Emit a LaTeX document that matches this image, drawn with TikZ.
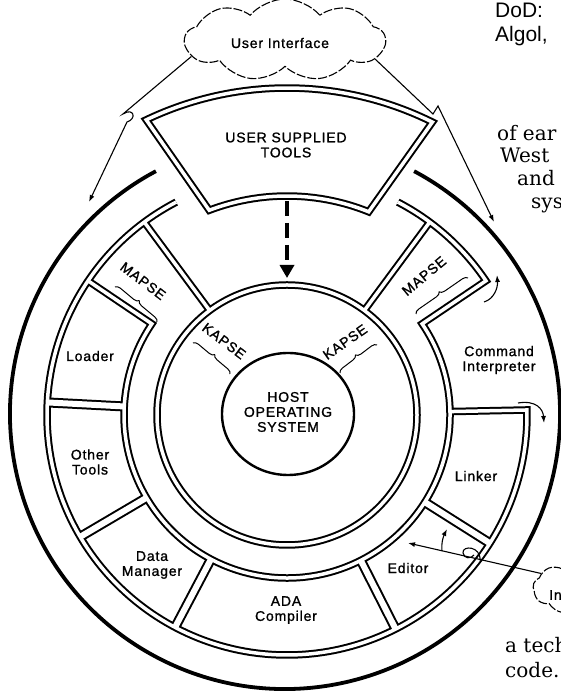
\documentclass[tikz,border=0pt]{standalone}
\usepackage{fontspec}
\usepackage{tikz}
\usetikzlibrary{arrows.meta}
\usetikzlibrary{shapes.symbols,decorations.pathreplacing}

\newfontfamily\labfam[LetterSpace=6,FakeBold=1.2]{Liberation Sans}
\newfontfamily\pagesansfam{Liberation Sans}
\newfontfamily\pageseriffam{DejaVu Serif}
\newcommand{\labfont}{\labfam\fontsize{14}{15}\selectfont}
\newcommand{\pagesansfont}{\pagesansfam\fontsize{21}{23}\selectfont}
\newcommand{\pageseriffont}{\pageseriffam\fontsize{20}{22}\selectfont}

\newcommand{\ringpaths}{%
  (0,0) circle[radius=130pt]
  (62.5:240pt) arc[start angle=62.5, end angle=34, radius=240pt] -- (34:163pt)
    arc[start angle=34, end angle=-214, radius=163pt] -- (146:240pt)
  (1.2:163pt) -- (1.2:240pt) arc[start angle=1.2, end angle=-242.5, radius=240pt]
  (126.5:130pt) -- (126.5:240pt)
  (53.5:130pt) -- (53.5:240pt)
  (63.6:327pt) arc[start angle=63.6, end angle=115.5, radius=327pt] -- (110.8:219pt)
    arc[start angle=110.8, end angle=68.1, radius=219pt] -- cycle}
\newcommand{\spokepaths}{%
  \foreach \a in {177,210.5,242.2,296.9,327.7} {(\a:163pt) -- (\a:240pt)}}

\tikzset{
  lab/.style={font=\labfont, align=center, inner sep=1pt},
  roadedge/.style={line width=7.5pt, line join=miter},
  roadcore/.style={white, line width=3.5pt, line join=miter},
  spokeedge/.style={line width=10pt},
  spokecore/.style={white, line width=6pt},
  hostline/.style={line width=2.4pt},
  rimline/.style={line width=3.8pt},
  flow/.style={line width=1.1pt, -{Latex[length=7pt,width=5pt]}},
  heavydash/.style={line width=4pt, dash pattern=on 15pt off 7pt, -{Triangle[width=14pt,length=13pt]}},
  kbrace/.style={decorate, decoration={brace, amplitude=5pt}, line width=1pt},
  bubble/.style={cloud, cloud puffs=9, cloud puff arc=100, cloud ignores aspect, draw, line width=1.1pt, dash pattern=on 9pt off 2pt},
  pagesans/.style={font=\pagesansfont, anchor=base west, inner sep=0pt},
  pageserif/.style={font=\pageseriffont, anchor=base west, inner sep=0pt}
}

\begin{document}
\begin{tikzpicture}[x=1pt,y=1pt]
  \useasboundingbox (0,0) rectangle (561,692);
  \clip (0,0) rectangle (561,692);

  \begin{scope}[shift={(287,277)}]
    \draw[roadedge] \ringpaths;
    \draw[spokeedge] \spokepaths;
    \draw[roadcore] \ringpaths;
    \draw[spokecore] \spokepaths;
    \draw[hostline] (1,1) ellipse[x radius=66pt, y radius=61pt];
    \draw[rimline] (-2,1) ++(62:275pt) arc[start angle=62, end angle=-242, radius=275pt];
  \end{scope}

  \node[lab] (host) at (288,280) {HOST\\OPERATING\\SYSTEM};
  \node[lab] (ust) at (286,547) {USER SUPPLIED\\TOOLS};
  \node[lab] (loader) at (90,336) {Loader};
  \node[lab] (other) at (90,230) {Other\\Tools};
  \node[lab] (datam) at (152,127) {Data\\Manager};
  \node[lab] (ada) at (286,82) {ADA\\Compiler};
  \node[lab] (editor) at (408,124) {Editor};
  \node[lab] (linker) at (476,216) {Linker};
  \node[lab] (cmdi) at (499,332) {Command\\Interpreter};

  \node[lab, rotate=-37] (mapsel) at (143,411) {MAPSE};
  \node[lab, rotate=40] (mapser) at (424,416) {MAPSE};
  \node[lab, rotate=-37] (kapsel) at (224,351) {KAPSE};
  \node[lab, rotate=35] (kapser) at (345,350) {KAPSE};
  \draw[kbrace] (115,405) -- (157,370);
  \draw[kbrace] (416,378) -- (468,414);
  \draw[kbrace] (193,349) -- (230,318);
  \draw[kbrace] (340,319) -- (377,347);

  \node[bubble, minimum width=200pt, minimum height=82pt] (ui) at (285,652) {};
  \node[lab] (uitext) at (280,649) {User Interface};
  \node[bubble, minimum width=88pt, minimum height=52pt] (ifc) at (577,104) {};
  \node[lab, anchor=west] (ifctext) at (548,97) {In};

  \coordinate (lt) at (89,490);
  \coordinate (rt) at (494,470);
  \draw[flow] (ui.190) -- (123,578) .. controls (134,585) and (137,573) .. (127,570) -- (lt);
  \draw[flow] (ui.-12) -- (433,578) -- (438,586) -- (rt);

  \coordinate (dtop) at (287,491);
  \coordinate (dtip) at (287,414);
  \draw[heavydash] (dtop) -- (dtip);

  \coordinate (cia) at (484,390);
  \coordinate (cib) at (497,417);
  \draw[flow] (cia) .. controls (494,393) and (498,404) .. (cib);
  \coordinate (lka) at (518,289);
  \coordinate (lkb) at (544,269);
  \draw[flow] (lka) .. controls (536,292) and (543,283) .. (lkb);

  \coordinate (edt) at (408,149);
  \coordinate (brs) at (442,140.8);
  \coordinate (brt) at (447,163);
  \draw[flow] (ifc.158) -- (edt);
  \draw[line width=1.1pt] (480,131.6) .. controls (481,146) and (462,147) .. (463,139) .. controls (464,133) and (471,133) .. (474,137);
  \draw[flow] (brs) .. controls (441,150) and (444,157) .. (brt);

  \node[pagesans] (dod) at (495,674) {DoD:};
  \node[pagesans] (algol) at (495,650) {Algol,};
  \node[pageserif] (ofear) at (497,551) {of ear};
  \node[pageserif] (west) at (500,529) {West};
  \node[pageserif] (andw) at (517,506) {and};
  \node[pageserif] (sysw) at (531,483) {sys};
  \node[pageserif] (atech) at (505,39) {a tech};
  \node[pageserif] (code) at (505,14) {code.};
\end{tikzpicture}
\end{document}
